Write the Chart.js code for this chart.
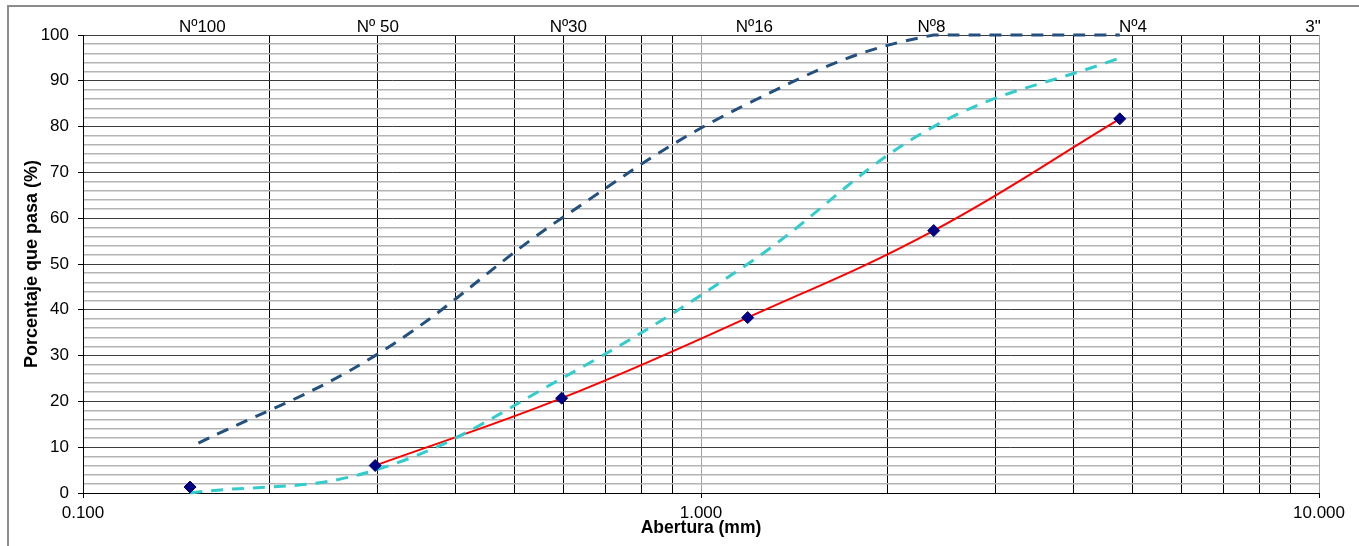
<!DOCTYPE html>
<html lang="es">
<head>
    <meta charset="UTF-8">
    <title>Curva granulométrica</title>
    <script src="https://cdn.jsdelivr.net/npm/chart.js"></script>
    <style>
        body {
    margin: 0;
    background: #fff;
    overflow: hidden;
}

#frame {
    position: absolute;
    left: 7px;
    top: 5px;
    width: 1400px;
    height: 600px;
    border-top: 2px solid #8c8c8c;
    border-left: 2px solid #8c8c8c;
}

#chartContainer {
    position: absolute;
    left: 0;
    top: 0;
    width: 1359px;
    height: 546px;
}
    </style>
</head>
<body>

<div id="frame"></div>
<div id="chartContainer">
    <canvas id="gradChart" width="1359" height="546"></canvas>
</div>

<script>
    // Tamices (mm) y porcentajes que pasan
    const sieveSizes = [0.149, 0.297, 0.595, 1.19, 2.38, 4.76];
    const passingSample = [1.3, 6.0, 20.7, 38.3, 57.3, 81.7];
    const upperLimit = [10, 30, 60, 85, 100, 100];
    const lowerLimit = [0, 5, 25, 50, 80, 95];

    // Rótulos de tamices en el eje superior
    const sieveNames = ['Nº100', 'Nº 50', 'Nº30', 'Nº16', 'Nº8', 'Nº4', '3"'];
    const sieveNameAt = [0.156, 0.300, 0.61, 1.22, 2.36, 5.0, 9.78];

    const FONT = 'Liberation Sans, Arial, sans-serif';

    function toPoints(xs, ys) {
        return ys.map((y, i) => ({ x: xs[i], y: y }));
    }

    function isDecade(v) {
        const l = Math.log10(v);
        return Math.abs(l - Math.round(l)) < 1e-6;
    }

    // 0.1, 0.2 ... 0.9, 1, 2 ... 9, 10
    const xGrid = [];
    for (let d = 0.1; d < 5; d *= 10) {
        for (let k = 1; k <= 9; k++) xGrid.push(+(k * d).toFixed(3));
    }
    xGrid.push(10);

    const yGrid = [];
    for (let v = 0; v <= 100; v += 2) yGrid.push(v);

    const ctx = document.getElementById('gradChart').getContext('2d');
    const gradChart = new Chart(ctx, {
        type: 'line',
        data: {
            datasets: [
                {
                    label: 'Muestra',
                    data: toPoints(sieveSizes, passingSample),
                    showLine: false,
                    pointStyle: 'rectRot',
                    pointRadius: 6,
                    pointBackgroundColor: '#000080',
                    pointBorderColor: '#000080',
                    pointBorderWidth: 1
                },
                {
                    label: 'Límite superior',
                    data: toPoints(sieveSizes, upperLimit),
                    borderColor: '#23507f',
                    borderWidth: 3,
                    borderDash: [12, 9],
                    borderDashOffset: 12,
                    borderCapStyle: 'butt',
                    tension: 0.4,
                    pointRadius: 0,
                    clip: false
                },
                {
                    label: 'Límite inferior',
                    data: toPoints(sieveSizes, lowerLimit),
                    borderColor: '#33cccc',
                    borderWidth: 3,
                    borderDash: [12, 9],
                    borderCapStyle: 'butt',
                    tension: 0.4,
                    pointRadius: 0,
                    clip: false
                },
                {
                    label: 'Curva',
                    data: toPoints(sieveSizes, passingSample).slice(1),
                    borderColor: '#ff0000',
                    borderWidth: 2,
                    tension: 0.4,
                    pointRadius: 0
                }
            ]
        },
        options: {
            responsive: false,
            animation: false,
            layout: { padding: { left: 0, top: 0, right: 40, bottom: 0 } },
            plugins: {
                legend: { display: false },
                tooltip: { enabled: false }
            },
            scales: {
                x: {
                    type: 'logarithmic',
                    position: 'bottom',
                    min: 0.1,
                    max: 10,
                    afterFit: s => { s.height = 53; },
                    afterBuildTicks: s => { s.ticks = xGrid.map(v => ({ value: v })); },
                    border: { color: '#000', width: 1 },
                    grid: {
                        color: c => isDecade(c.tick.value) ? '#a0a0a0' : '#000',
                        lineWidth: 1,
                        tickLength: 5,
                        tickColor: c => isDecade(c.tick.value) ? '#000' : 'rgba(0,0,0,0)'
                    },
                    ticks: {
                        autoSkip: false,
                        maxRotation: 0,
                        padding: 5,
                        color: '#000',
                        font: { family: FONT, size: 17 },
                        callback: v => isDecade(v) ? v.toFixed(3) : ''
                    },
                    title: {
                        display: true,
                        text: 'Abertura (mm)',
                        color: '#000',
                        padding: { top: 0, bottom: 7 },
                        font: { family: FONT, size: 17.5, weight: 'bold' }
                    }
                },
                x2: {
                    type: 'logarithmic',
                    position: 'top',
                    min: 0.1,
                    max: 10,
                    afterFit: s => { s.height = 35; },
                    afterBuildTicks: s => { s.ticks = sieveNameAt.map(v => ({ value: v })); },
                    border: { display: false },
                    grid: { display: false, drawTicks: false },
                    ticks: {
                        autoSkip: false,
                        maxRotation: 0,
                        padding: -3,
                        color: '#000',
                        font: { family: FONT, size: 17 },
                        callback: (v, i) => sieveNames[i]
                    }
                },
                y: {
                    min: 0,
                    max: 100,
                    afterFit: s => { s.width = 83; },
                    afterBuildTicks: s => { s.ticks = yGrid.map(v => ({ value: v })); },
                    border: { color: '#000', width: 1 },
                    grid: {
                        color: c => c.tick.value % 10 === 0 ? '#3c3c3c' : '#b4b4b4',
                        lineWidth: c => c.tick.value % 10 === 0 ? 1 : 1.5,
                        tickLength: 5,
                        tickColor: c => c.tick.value % 10 === 0 ? '#000' : 'rgba(0,0,0,0)'
                    },
                    ticks: {
                        autoSkip: false,
                        padding: 9,
                        color: '#000',
                        font: { family: FONT, size: 17 },
                        callback: v => v % 10 === 0 ? v : ''
                    },
                    title: {
                        display: true,
                        text: 'Porcentaje que pasa (%)',
                        color: '#000',
                        padding: { top: 21, bottom: 0 },
                        font: { family: FONT, size: 18, weight: 'bold' }
                    }
                }
            }
        }
    });
</script>

</body>
</html>
